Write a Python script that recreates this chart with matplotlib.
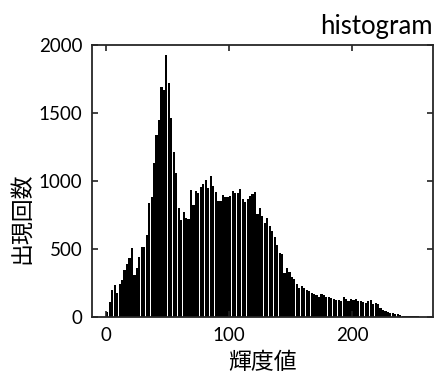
import matplotlib
matplotlib.use('Agg')
import matplotlib.pyplot as plt
import numpy as np

# histogram of brightness values (bin width 2, 0-255)
bin_width = 2
counts = [40, 113, 198, 235, 176, 245, 272, 345, 390, 433,
          507, 309, 360, 443, 514, 514, 603, 840, 885, 1130,
          1338, 1448, 1693, 1670, 1926, 1720, 1463, 1215, 1059, 800,
          715, 770, 730, 720, 934, 824, 929, 909, 953, 978,
          1007, 946, 1037, 963, 921, 855, 855, 897, 880, 885,
          893, 929, 914, 909, 939, 870, 846, 865, 890, 905,
          919, 757, 799, 740, 693, 726, 670, 635, 590, 530,
          473, 461, 321, 358, 330, 296, 279, 245, 211, 228,
          215, 203, 193, 180, 169, 160, 150, 169, 160, 150,
          150, 140, 130, 125, 125, 120, 145, 130, 120, 130,
          125, 132, 115, 118, 110, 105, 115, 125, 100, 105,
          95, 70, 55, 45, 40, 32, 28, 25, 22, 15,
          12, 10, 8, 8, 6, 5, 5, 4]
edges = np.arange(len(counts)) * bin_width

title_text = 'histogram'
xlabel_text = '輝度値'
ylabel_text = '出現回数'
xticks = [0, 100, 200]
yticks = [0, 500, 1000, 1500, 2000]

fig = plt.figure(figsize=(4.36, 3.74), dpi=100)
ax = fig.add_axes([0.211, 0.152, 0.782, 0.728])

ax.bar(edges, counts, width=bin_width * 0.88, align='edge', color='black',
       linewidth=0)

ax.set_xlim(-11.6, 265.5)
ax.set_ylim(0, 2000)
ax.set_xticks(xticks)
ax.set_yticks(yticks)
ax.tick_params(direction='in', length=4, width=1.2, top=True, right=True,
               labelsize=13.5, pad=7, colors='#222222')
for lab in ax.get_xticklabels() + ax.get_yticklabels():
    lab.set_family('Lato')
    lab.set_color('black')
for s in ax.spines.values():
    s.set_linewidth(1.3)
    s.set_color('#262626')

ax.set_title(title_text, loc='right', fontsize=18.5, family='Lato', pad=8)
ax.set_xlabel(xlabel_text, fontsize=16.5, family='Noto Sans CJK JP', labelpad=5)
ax.set_ylabel(ylabel_text, fontsize=16.5, family='Noto Sans CJK JP')
ax.yaxis.set_label_coords(-0.172, 0.364)

fig.savefig('out.png', dpi=100)
